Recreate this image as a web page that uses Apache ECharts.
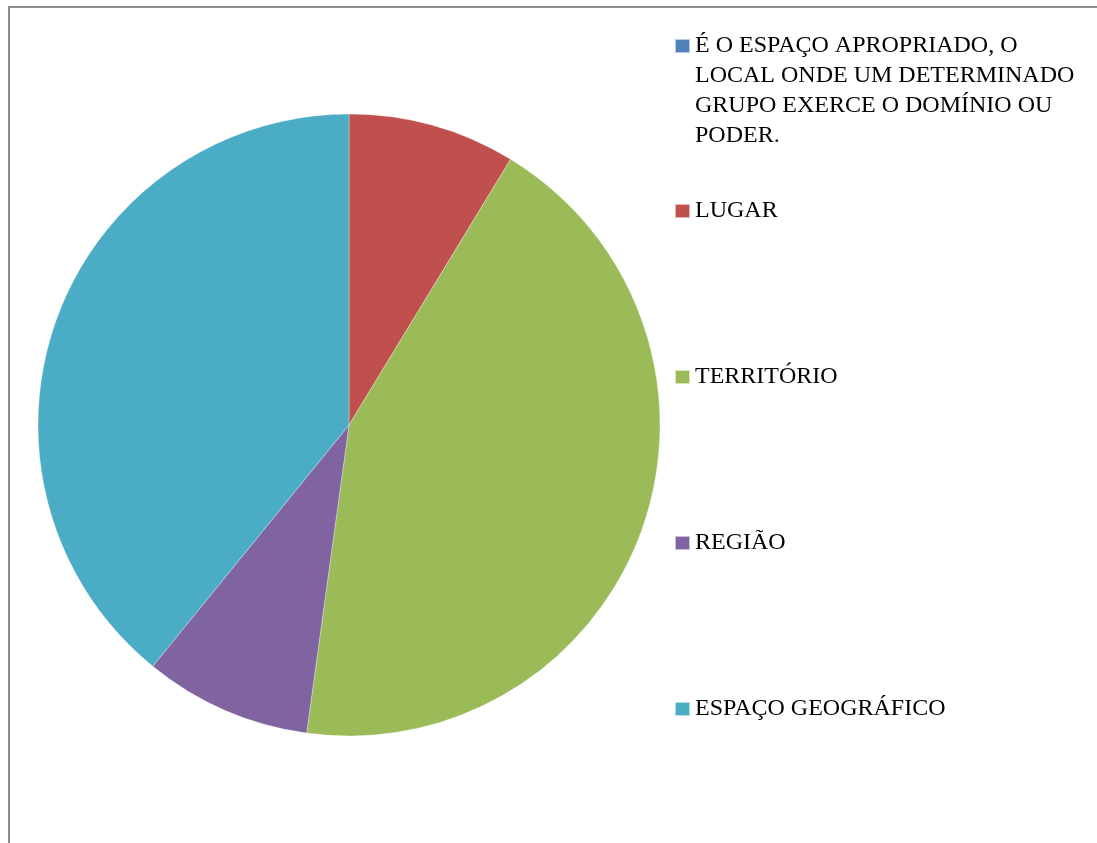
<!DOCTYPE html>
<html>
<head>
<meta charset="utf-8">
<script src="https://cdn.jsdelivr.net/npm/echarts@6/dist/echarts.min.js"></script>
<style>
html, body { margin: 0; padding: 0; background: #fff; }
#chart { width: 1097px; height: 843px; }
</style>
</head>
<body>
<div id="chart"></div>
<script>
// categorias e valores
var categorias = [
    'É O ESPAÇO APROPRIADO, O\nLOCAL ONDE UM DETERMINADO\nGRUPO EXERCE O DOMÍNIO OU\nPODER.',
    'LUGAR',
    'TERRITÓRIO',
    'REGIÃO',
    'ESPAÇO GEOGRÁFICO'
]
var valores = [0, 2, 10, 2, 9]
var cores = ['#4F81BD', '#C0504D', '#9BBB59', '#8064A2', '#4BACC6']

var myChart = echarts.init(document.getElementById('chart'))

var pieData = []
for (var i = 0; i < categorias.length; i++) {
    pieData.push({ name: categorias[i], value: valores[i] })
}

var fonte = { fontFamily: 'Liberation Serif', fontSize: 24, color: '#000', lineHeight: 30 }

var option = {
    color: cores,
    animation: false,
    graphic: [{
        type: 'rect',
        shape: { x: 9, y: 7, width: 1200, height: 900 },
        style: { fill: 'none', stroke: '#8c8c8c', lineWidth: 2 }
    }],
    legend: [
        {
            // primeiro item: linhas vazias em cima para o ícone ficar na primeira linha
            data: [categorias[0]],
            formatter: function (name) {
                return '\n\n\n' + name
            },
            orient: 'vertical',
            left: 674,
            top: -59,
            padding: 0,
            icon: 'rect',
            itemWidth: 15,
            itemHeight: 14,
            textStyle: fonte,
            selectedMode: false
        },
        {
            data: categorias.slice(1),
            orient: 'vertical',
            left: 674,
            top: 196,
            padding: 0,
            itemGap: 136,
            icon: 'rect',
            itemWidth: 15,
            itemHeight: 14,
            textStyle: fonte,
            selectedMode: false
        }
    ],
    series: [
        {
            type: 'pie',
            center: [349, 425],
            radius: 311,
            startAngle: 90,
            clockwise: true,
            data: pieData,
            label: { show: false },
            labelLine: { show: false },
            emphasis: { disabled: true },
            itemStyle: { borderColor: 'rgba(255,255,255,0.6)', borderWidth: 0.5 }
        }
    ]
}
myChart.setOption(option)
</script>
</body>
</html>
